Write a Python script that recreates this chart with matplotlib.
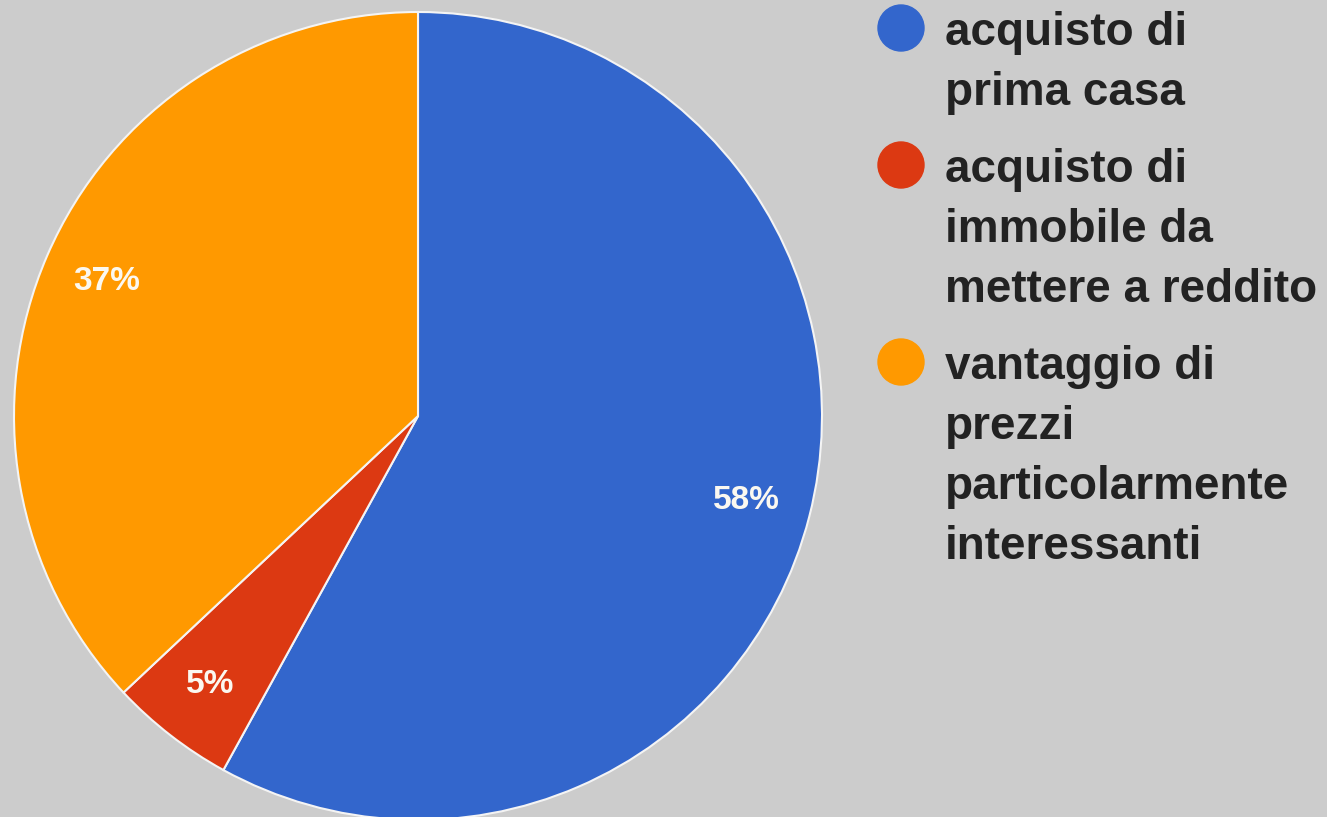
import matplotlib
matplotlib.use('Agg')
import matplotlib.pyplot as plt
from matplotlib.patches import Circle

# share of answers per reason
labels = ['acquisto di\nprima casa',
          'acquisto di\nimmobile da\nmettere a reddito',
          'vantaggio di\nprezzi\nparticolarmente\ninteressanti']
values = [58, 5, 37]
colors = ['#3366cc', '#dc3912', '#ff9900']

bg = '#cccccc'
W, H = 1327, 817

fig = plt.figure(figsize=(W / 100, H / 100), dpi=100, facecolor=bg)

# pie axes: centre (418, 416) px from top-left, radius 404 px
cx, cy, r = 418, 416, 404
ax = fig.add_axes([(cx - r) / W, (H - cy - r) / H, 2 * r / W, 2 * r / H])
ax.set_facecolor(bg)
wedges, texts, autotexts = ax.pie(
    values, colors=colors, startangle=90, counterclock=False,
    autopct='%d%%', pctdistance=0.84, radius=1,
    wedgeprops=dict(edgecolor='#f4f4f4', linewidth=1.5),
    textprops=dict(color='#fbf8f0', fontsize=24, fontweight='bold',
                   family='Liberation Sans'))
ax.set_xlim(-1, 1)
ax.set_ylim(-1, 1)
ax.set_aspect('equal')
ax.axis('off')

# legend drawn by hand: coloured dot + wrapped bold label
line_h = 60
group_gap = 77
baseline = 45
for lab, col in zip(labels, colors):
    lines = lab.split('\n')
    dot_y = baseline - 17
    fig.patches.append(Circle((901 / 100, (H - dot_y) / 100), 23 / 100,
                              transform=fig.dpi_scale_trans, color=col,
                              zorder=3))
    for i, ln in enumerate(lines):
        fig.text(945 / W, 1 - (baseline + i * line_h) / H, ln,
                 fontsize=33, fontweight='bold', family='Liberation Sans',
                 color='#222222', va='baseline', ha='left')
    baseline += (len(lines) - 1) * line_h + group_gap

fig.savefig('out.png', dpi=100, facecolor=bg)
